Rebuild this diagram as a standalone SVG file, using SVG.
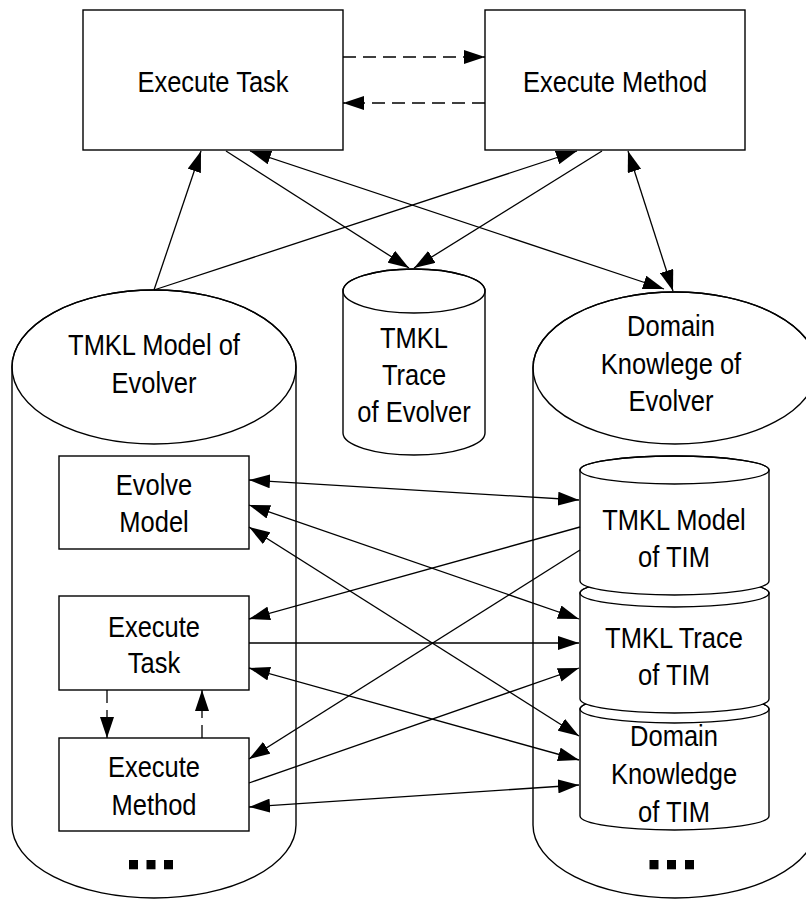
<svg xmlns="http://www.w3.org/2000/svg" width="806" height="900" viewBox="0 0 806 900">
  <style>
    .shape { fill: #ffffff; stroke: #000000; stroke-width: 1.4; }
    .rim { fill: none; stroke: #000000; stroke-width: 1.4; }
    .lbl { font-family: "Liberation Sans", Arial, Helvetica, sans-serif; font-size: 30px; fill: #000000; text-anchor: middle; }
    .link { fill: none; stroke: #000000; stroke-width: 1.3; }
    .dash { stroke-dasharray: 13 7; }
    .one { marker-end: url(#head); }
    .two { marker-start: url(#head); marker-end: url(#head); }
  </style>
  <defs>
    <marker id="head" markerUnits="userSpaceOnUse" markerWidth="21" markerHeight="14" refX="21" refY="7" orient="auto-start-reverse">
      <path d="M0,0 L21,7 L0,14 Z" fill="#000000"/>
    </marker>
  </defs>

  <rect width="806" height="900" fill="#ffffff"/>

  <!-- large store: TMKL model of the evolver -->
  <g id="tmkl-model-evolver">
    <path class="shape" d="M12,367 A142,77 0 0 1 296,367 L296,825 A142,73 0 0 1 12,825 Z"/>
    <ellipse class="rim" cx="154" cy="367" rx="142" ry="77"/>
    <text class="lbl" transform="translate(154 0) scale(0.85 1)"><tspan x="0" y="355">TMKL Model of</tspan><tspan x="0" y="393">Evolver</tspan></text>
    <rect x="129" y="860" width="9" height="9.3" fill="#000000"/>
    <rect x="146.5" y="860" width="9" height="9.3" fill="#000000"/>
    <rect x="164" y="860" width="9" height="9.3" fill="#000000"/>
  </g>

  <!-- large store: domain knowledge of the evolver -->
  <g id="domain-knowledge-evolver">
    <path class="shape" d="M533,368 A142,76 0 0 1 817,368 L817,825 A142,73 0 0 1 533,825 Z"/>
    <ellipse class="rim" cx="675" cy="368" rx="142" ry="76"/>
    <text class="lbl" transform="translate(671 0) scale(0.85 1)"><tspan x="0" y="336">Domain</tspan><tspan x="0" y="374">Knowlege of</tspan><tspan x="0" y="411">Evolver</tspan></text>
    <rect x="649.5" y="860" width="9" height="9.3" fill="#000000"/>
    <rect x="667" y="860" width="9" height="9.3" fill="#000000"/>
    <rect x="685" y="860" width="9" height="9.3" fill="#000000"/>
  </g>

  <!-- top process boxes -->
  <g id="execute-task">
    <rect class="shape" x="83" y="10" width="260" height="140"/>
    <text class="lbl" transform="translate(213 92) scale(0.85 1)">Execute Task</text>
  </g>
  <g id="execute-method">
    <rect class="shape" x="485" y="10" width="260" height="140"/>
    <text class="lbl" transform="translate(615 92) scale(0.85 1)">Execute Method</text>
  </g>

  <!-- trace store -->
  <g id="tmkl-trace-evolver">
    <path class="shape" d="M343,291 A71,22 0 0 1 485,291 L485,433 A71,22 0 0 1 343,433 Z"/>
    <ellipse class="rim" cx="414" cy="291" rx="71" ry="22"/>
    <text class="lbl" transform="translate(414 0) scale(0.85 1)"><tspan x="0" y="348">TMKL</tspan><tspan x="0" y="385">Trace</tspan><tspan x="0" y="422">of Evolver</tspan></text>
  </g>

  <!-- inner boxes of the evolver model -->
  <g id="evolve-model">
    <rect class="shape" x="59" y="456" width="190" height="93"/>
    <text class="lbl" transform="translate(154 0) scale(0.85 1)"><tspan x="0" y="495">Evolve</tspan><tspan x="0" y="532">Model</tspan></text>
  </g>
  <g id="inner-execute-task">
    <rect class="shape" x="59" y="596" width="190" height="94"/>
    <text class="lbl" transform="translate(154 0) scale(0.85 1)"><tspan x="0" y="637">Execute</tspan><tspan x="0" y="673">Task</tspan></text>
  </g>
  <g id="inner-execute-method">
    <rect class="shape" x="59" y="738" width="190" height="93"/>
    <text class="lbl" transform="translate(154 0) scale(0.85 1)"><tspan x="0" y="777">Execute</tspan><tspan x="0" y="815">Method</tspan></text>
  </g>

  <!-- stacked stores of TIM (drawn bottom-up so each covers the next one's lid) -->
  <g id="domain-knowledge-tim">
    <path class="shape" d="M580,709 A94.5,14 0 0 1 769,709 L769,816 A94.5,14 0 0 1 580,816 Z"/>
    <ellipse class="rim" cx="674.5" cy="709" rx="94.5" ry="14"/>
    <text class="lbl" transform="translate(674 0) scale(0.85 1)"><tspan x="0" y="746">Domain</tspan><tspan x="0" y="784">Knowledge</tspan><tspan x="0" y="822">of TIM</tspan></text>
  </g>
  <g id="tmkl-trace-tim">
    <path class="shape" d="M580,593 A94.5,14 0 0 1 769,593 L769,699 A94.5,14 0 0 1 580,699 Z"/>
    <ellipse class="rim" cx="674.5" cy="593" rx="94.5" ry="14"/>
    <text class="lbl" transform="translate(674 0) scale(0.85 1)"><tspan x="0" y="648">TMKL Trace</tspan><tspan x="0" y="685">of TIM</tspan></text>
  </g>
  <g id="tmkl-model-tim">
    <path class="shape" d="M580,470 A94.5,14 0 0 1 769,470 L769,581 A94.5,14 0 0 1 580,581 Z"/>
    <ellipse class="rim" cx="674.5" cy="470" rx="94.5" ry="14"/>
    <text class="lbl" transform="translate(674 0) scale(0.85 1)"><tspan x="0" y="530">TMKL Model</tspan><tspan x="0" y="567">of TIM</tspan></text>
  </g>

  <!-- connectors -->
  <g id="connectors">
    <line class="link dash one" x1="343" y1="57" x2="485" y2="57"/>
    <line class="link dash one" x1="485" y1="103" x2="343" y2="103"/>
    <line class="link one" x1="154" y1="290" x2="201" y2="151"/>
    <line class="link one" x1="154" y1="290" x2="577" y2="151"/>
    <line class="link one" x1="226" y1="151" x2="409" y2="268"/>
    <line class="link one" x1="602" y1="151" x2="414" y2="268"/>
    <line class="link two" x1="250" y1="151" x2="664" y2="289"/>
    <line class="link two" x1="628" y1="151" x2="673" y2="291"/>

    <line class="link dash one" x1="107" y1="690" x2="107" y2="738"/>
    <line class="link dash one" x1="202" y1="738" x2="202" y2="690"/>

    <line class="link two" x1="249" y1="480" x2="579" y2="500"/>
    <line class="link two" x1="249" y1="505" x2="579" y2="619"/>
    <line class="link two" x1="249" y1="527" x2="579" y2="736"/>
    <line class="link one" x1="580" y1="527" x2="249" y2="619"/>
    <line class="link one" x1="580" y1="550" x2="249" y2="759"/>
    <line class="link one" x1="249" y1="643" x2="579" y2="643"/>
    <line class="link two" x1="249" y1="668" x2="579" y2="760"/>
    <line class="link one" x1="249" y1="783" x2="579" y2="668"/>
    <line class="link two" x1="249" y1="807" x2="579" y2="785"/>
  </g>
</svg>
